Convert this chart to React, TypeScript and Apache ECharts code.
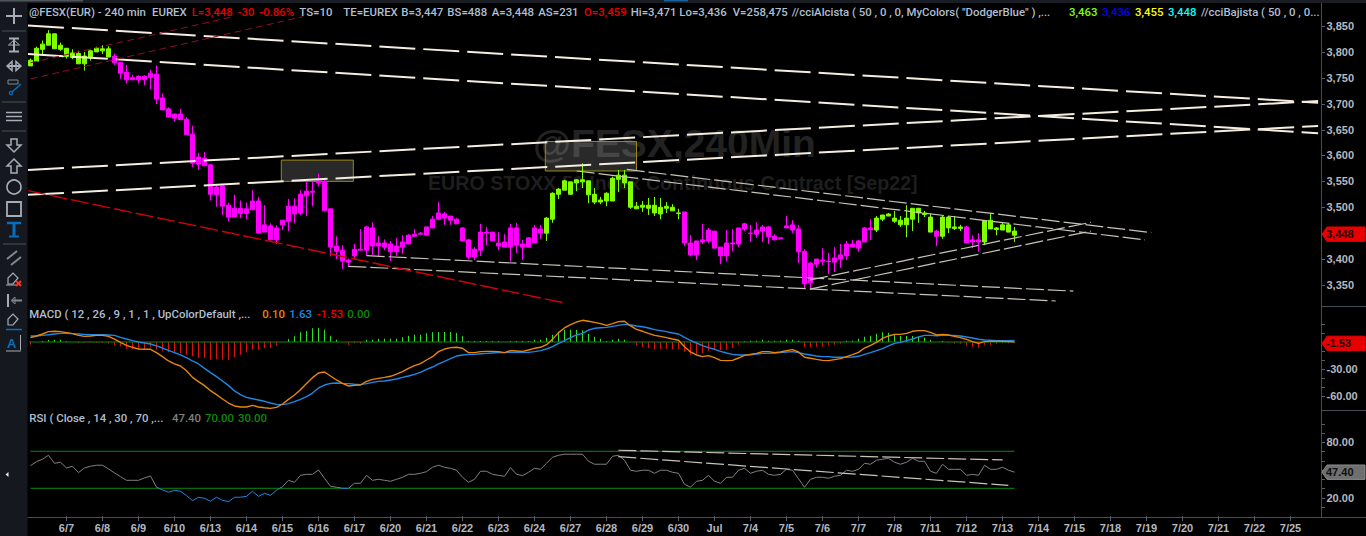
import React, { useEffect, useRef } from "react";
import * as echarts from "echarts";

const dayLabels = ["6/7","6/8","6/9","6/10","6/13","6/14","6/15","6/16","6/17","6/20","6/21","6/22","6/23","6/24","6/27","6/28","6/29","6/30","Jul","7/4","7/5","7/6","7/7","7/8","7/11","7/12","7/13","7/14","7/15","7/18","7/19","7/20","7/21","7/22","7/25"];

const bodyHigh = [3784,3807,3815,3835,3835,3813,3807,3798,3797,3792,
3802,3807,3806,3806,3792,3780,3761,3750,3753,3753,
3759,3757,3711,3690,3680,3680,3670,3641,3597,3595,
3582,3539,3541,3504,3498,3498,3497,3512,3512,3466,
3464,3460,3475,3502,3502,3525,3531,3531,3551,3549,
3497,3425,3417,3398,3419,3419,3462,3460,3431,3431,
3429,3425,3433,3446,3448,3450,3462,3477,3489,3487,
3483,3477,3460,3437,3419,3452,3452,3452,3431,3433,
3460,3460,3429,3441,3460,3458,3479,3527,3535,3551,
3549,3553,3553,3551,3525,3514,3527,3556,3562,3562,
3549,3502,3504,3504,3504,3500,3502,3500,3489,3491,
3431,3435,3437,3456,3454,3423,3431,3431,3460,3468,
3450,3456,3462,3462,3444,3441,3464,3466,3458,3415,
3392,3400,3398,3396,3402,3408,3429,3429,3435,3460,
3460,3479,3485,3487,3479,3475,3479,3498,3498,3489,
3481,3454,3481,3481,3462,3462,3462,3437,3437,3474,
3475,3460,3466,3466,3454];
const bodyLow = [3773,3782,3805,3813,3806,3805,3791,3789,3777,3777,
3789,3800,3802,3790,3779,3759,3746,3746,3746,3746,
3751,3709,3688,3674,3672,3669,3640,3585,3583,3580,
3525,3524,3502,3481,3481,3488,3488,3495,3450,3452,
3437,3437,3466,3473,3487,3489,3522,3529,3547,3493,
3423,3415,3396,3394,3406,3417,3417,3425,3425,3423,
3414,3414,3423,3429,3444,3448,3446,3460,3477,3479,
3475,3468,3435,3404,3404,3417,3450,3435,3425,3423,
3423,3427,3423,3423,3431,3450,3450,3477,3525,3533,
3525,3547,3549,3524,3510,3510,3512,3512,3554,3547,
3500,3497,3500,3498,3489,3487,3498,3493,3488,3431,
3408,3408,3433,3435,3421,3406,3406,3429,3429,3458,
3449,3448,3454,3443,3437,3439,3460,3456,3414,3352,
3354,3390,3396,3395,3394,3400,3406,3423,3421,3433,
3457,3456,3477,3483,3473,3466,3466,3477,3489,3486,
3452,3444,3444,3460,3459,3459,3431,3433,3433,3433,
3458,3457,3456,3452,3446];
const wickHigh = [3787,3810,3822,3842,3835,3818,3807,3805,3802,3800,
3804,3810,3813,3811,3797,3780,3775,3756,3755,3755,
3766,3774,3720,3693,3680,3690,3674,3657,3605,3607,
3582,3543,3541,3509,3524,3513,3509,3533,3520,3504,
3469,3465,3475,3516,3517,3533,3551,3551,3565,3553,
3497,3444,3427,3401,3429,3458,3464,3471,3444,3438,
3435,3441,3446,3448,3458,3452,3462,3483,3510,3491,
3483,3479,3462,3439,3423,3468,3462,3452,3452,3448,
3468,3470,3437,3442,3466,3466,3481,3529,3537,3553,
3549,3554,3585,3551,3537,3520,3529,3559,3572,3572,
3549,3510,3512,3518,3520,3518,3510,3506,3497,3491,
3446,3435,3468,3460,3454,3423,3456,3458,3460,3470,
3466,3471,3466,3464,3448,3441,3483,3475,3466,3419,
3394,3400,3421,3412,3423,3429,3435,3437,3437,3462,
3477,3483,3485,3489,3493,3483,3504,3498,3498,3493,
3487,3456,3483,3483,3483,3466,3464,3446,3450,3474,
3489,3462,3471,3468,3462];
const wickLow = [3773,3782,3794,3813,3806,3802,3787,3786,3777,3764,
3783,3800,3796,3790,3775,3748,3739,3746,3739,3736,
3728,3699,3688,3674,3665,3669,3640,3578,3572,3580,
3513,3501,3485,3473,3481,3479,3477,3495,3450,3452,
3437,3429,3456,3454,3469,3485,3483,3502,3540,3493,
3405,3400,3381,3384,3401,3417,3406,3408,3405,3417,
3396,3406,3410,3429,3444,3448,3446,3460,3477,3466,
3466,3468,3435,3400,3398,3406,3427,3435,3417,3423,
3395,3412,3398,3423,3431,3439,3435,3470,3516,3533,
3525,3531,3537,3508,3506,3506,3502,3512,3529,3537,
3497,3497,3491,3485,3483,3477,3489,3493,3477,3425,
3405,3398,3429,3431,3421,3390,3396,3415,3423,3454,
3433,3441,3433,3429,3437,3439,3460,3450,3392,3344,
3342,3383,3388,3371,3375,3383,3398,3423,3414,3433,
3437,3452,3473,3483,3470,3462,3442,3454,3470,3481,
3452,3425,3439,3450,3456,3454,3431,3421,3414,3427,
3458,3446,3456,3452,3433];
const bullRuns = [[0,13],[86,108],[141,150],[152,155],[159,164]];

const macdFast = [4.8,6.7,8.9,11.5,11.9,11.5,10.4,9.3,7.4,6.3,
6.7,7.4,7.4,6.3,3.3,-0.4,-3.7,-5.9,-7.8,-8.1,
-8.1,-11.8,-16.3,-21.1,-24.4,-26.7,-31.9,-39.3,-44.1,-48.5,
-54.1,-58.5,-63.3,-67.8,-71.1,-72.2,-72.2,-70.4,-72.2,-73,
-73.7,-72.6,-68.9,-63.7,-58.9,-53,-46,-39.6,-34.4,-33.3,
-37.8,-42.2,-46,-48.9,-48.2,-47.8,-43.7,-41.5,-40.4,-39.3,
-38.1,-35.6,-33,-29.3,-26.3,-24.1,-20,-16.3,-10.7,-7.8,
-6.3,-5.9,-7,-11.8,-11.8,-10.7,-10.4,-10.4,-10.7,-11.8,
-9.6,-10,-10.4,-8.9,-7,-5.9,-3,2.9,10.4,15.6,
19.3,22.2,24.1,23,21.8,20.4,18.5,20.4,22.6,23,
17.8,14.1,11.9,9.6,7.4,6.3,4.8,3.3,1.9,-5.2,
-11.1,-14.4,-16.3,-15.2,-17.4,-20.4,-20.7,-20.4,-17.8,-14.8,
-13.7,-12.6,-10.7,-10.7,-11.8,-11.1,-9.6,-8.5,-11.1,-17,
-18.1,-19.3,-20.4,-20.7,-19.6,-18.5,-16.3,-14.1,-11.5,-6.7,
-3.7,-0.4,4.1,6.7,8.5,8.5,9.6,11.9,12.6,12.6,
10.7,7.8,8.5,7.8,6.3,4.8,2.9,0.4,-1.5,0.4,
0.7,0.7,0.7,0.4,0.1];
const macdSignal = [6.7,6.7,7.4,8.1,8.9,9.6,9.6,9.3,8.9,8.5,
8.1,8.1,8.1,7.8,7.4,5.2,3.3,1.5,0,-1.1,
-2.2,-4.4,-6.7,-9.3,-11.8,-14.4,-17.4,-21.1,-24.4,-29.3,
-34.1,-38.5,-43.3,-48.5,-54.4,-58.5,-61.5,-63,-64.4,-65.9,
-67.8,-69.3,-69.6,-68.5,-66.3,-63.7,-60.7,-56.7,-51.1,-47.8,
-46,-45.6,-46,-46.3,-47,-47.4,-46.3,-44.8,-43.7,-43.3,
-42.2,-41.1,-39.3,-37.8,-35.9,-33.7,-30.4,-27.8,-24.4,-21.5,
-18.5,-15.6,-14.4,-13.7,-13.7,-13,-12.6,-12.2,-11.8,-11.8,
-11.5,-11.5,-11.5,-11.5,-10.7,-9.6,-7.8,-5.2,-1.5,1.5,
4.8,7.8,9.6,13.3,15.2,15.9,16.3,17.4,18.5,19.6,
18.9,17.8,17,15.6,13.7,12.6,11.5,10,8.9,5.2,
1.9,-1.1,-4.1,-6.3,-8.1,-10.4,-12.2,-13.7,-14.4,-14.4,
-14.1,-13.3,-12.6,-12.6,-12.2,-11.8,-11.1,-10.7,-11.8,-13.3,
-14.4,-15.6,-16.3,-16.3,-17,-17,-17,-16.7,-15.9,-13.7,
-11.8,-9.6,-7.4,-4.4,-1.5,-0.4,1.5,3.3,5.6,7.4,
7.4,7,7.4,7.4,7.4,6.7,5.6,4.4,3,2.2,
1.9,1.5,1.5,1.5,1.63];
const macdHist = [-3,0,1.1,2.2,2.6,2.6,0.7,0,-1.5,-1.1,
-1.1,-1.1,-1.1,-1.9,-3.3,-4.8,-7.4,-7.8,-8.5,-7.4,
-5.9,-8.5,-10.4,-11.5,-12.2,-12.2,-14.1,-15.9,-17.8,-17.8,
-19.6,-18.9,-19.6,-19.6,-17,-14.1,-11.5,-8.5,-8.5,-6.7,
-6.7,-4.1,0,3.3,6.3,10.7,12.2,15.2,15.9,13.7,
7,2.6,0,-3,-1.5,-1.9,2.6,2.6,3.7,3.7,
3.7,3.7,5.2,7,8.1,8.1,9.6,10.7,11.1,11.1,
11.1,10,6.3,1.1,1.1,1.1,1.1,1.1,1.1,0,
1.1,1.1,1.1,1.1,2.6,2.6,4.8,8.1,11.1,13.7,
13.7,13.7,13,9.3,5.9,3.7,1.1,2.6,3.7,2.6,
0,-4.1,-5.6,-6.7,-7.8,-7.8,-7.4,-7.8,-7.8,-10.7,
-14.1,-13,-12.2,-9.6,-9.3,-9.3,-8.5,-6.7,-3,0.7,
1.5,1.5,2.6,1.5,1.5,1.5,2.6,2.6,1.5,-5.6,
-5.9,-5.2,-5.2,-3.7,-3,-1.9,1.5,1.5,3.7,5.9,
7,9.3,10.7,10.4,8.1,6.7,6.7,6.7,5.9,4.8,
2.6,0,1.1,-0.4,-1.9,-1.9,-4.1,-5.2,-6.3,-3,
-3.3,-1.9,-1.5,-1.5,-1.1];
const rsiValues = [54.5,58.8,61.4,65.7,57,58.1,52,53.8,46.9,52,
53.8,54.9,54.9,50.9,46.6,42.6,38.6,38.6,38.6,41.2,
43.3,31.1,28.2,25.7,27.8,26.8,22.1,16.7,20.3,19.2,
16,20.3,17,15.6,20.3,20.3,21.3,26.8,21.3,24.6,
22.4,27.8,31.8,38.6,36.5,44,45.1,45.1,49.8,40.8,
32.2,31.1,30,30,35.4,35.4,44,38.6,39.7,38.6,
37.6,39.7,41.9,45.1,45.1,46.2,48,52.7,54.9,52.7,
51.6,49.5,41.9,36.5,39.7,48.4,48.4,45.1,44,43,
52.4,45.1,43.7,47.3,51.6,50.5,57,63.5,65.7,66.8,
66.8,66.8,66.8,59.2,56,56,56,64.6,65.7,60.3,
49.5,48.4,49.5,49.5,46.2,49.5,49.5,47.3,46.2,34.3,
31.1,37.6,38.6,44,37.6,35.4,41.9,41.9,49.5,51.6,
46.2,48.4,49.5,45.1,44,45.1,50.5,49.5,40.4,31.1,
39.7,41.9,41.9,40.8,43,44,49.5,48.4,50.5,57,
56,60.3,61.4,62.4,58.1,56,58.1,62.4,59.2,59.2,
48.4,46.2,56,50.5,50.5,50.5,44,45.1,44,54.9,
50.5,50.5,52.7,49.5,47.4];

// trend lines: candle index / value at both ends
const heavyLines = [[-0.42,3851,214.6,3702],[-0.42,3796,214.6,3643],[-0.42,3572,214.6,3705],[-0.42,3524,214.6,3657]];
const thinLines = [[99.37,3573,186.8,3451],[91.03,3570,185.75,3437],[56.03,3406.5,173.8,3338],[52.97,3386,170.87,3319],[129.92,3359.5,176.75,3471],[129.92,3342,176.75,3454]];
const redLine = [-0.42,3532,89.08,3315];
const dottedLines = [[0.03,3779,33.75,3868],[0.03,3748,45.4,3868]];
const rsiLines = [[97.97,71.1,162.03,60.6],[97.97,64.2,162.97,33.2]];
const macdZero = [[-0.2,0,164,0]];
const rsiLevels = [[0,70,164,70],[0,30,164,30]];
const zoneBoxes = [[41.8,3591,53.8,3550],[85.8,3627,101,3570]];

const priceTicks = [3850,3800,3750,3700,3650,3600,3550,3500,3450,3400,3350];
const priceLabels = [3850,3800,3750,3700,3650,3600,3550,3500,3400,3350];
const macdTicks = [20,10,0,-10,-20,-30,-40,-50,-60];
const macdLabels = [-30,-60];
const rsiTicks = [100,90,80,70,60,50,40,30,20,10];
const rsiLabels = [80,20];

const lastPrice = 3448;
const lastMacd = -1.53;
const lastRsi = 47.4;

const TEXT = "#aebfd2";
const RED = "#e60000";
const GREEN_TXT = "#0a8a0a";
const headerPieces: [string, number, string][] = [
  ["@FESX(EUR) - 240 min", 29, TEXT],["EUREX", 152, TEXT],["L=3,448", 191.7, RED],["-30", 237.7, RED],["-0.86%", 259.3, RED],
  ["TS=10", 299.3, TEXT],["TE=EUREX", 343.3, TEXT],["B=3,447", 401.3, TEXT],["BS=488", 447.3, TEXT],["A=3,448", 491.7, TEXT],
  ["AS=231", 538.3, TEXT],["O=3,459", 584, RED],["Hi=3,471", 630.7, TEXT],["Lo=3,436", 679.3, TEXT],["V=258,475", 732.7, TEXT],
  ['//cciAlcista ( 50 , 0 , 0, MyColors( "DodgerBlue" ) ,...', 791.7, TEXT],
  ["3,463", 1069, "#7fff00"],["3,436", 1102, "#0000ff"],["3,455", 1135, "#ffff00"],["3,448", 1168, "#00ffff"],
  ["//cciBajista ( 50 , 0 , 0...", 1201, TEXT],
];
const macdPieces: [string, number, string][] = [
  ["MACD ( 12 , 26 , 9 , 1 , 1 , UpColorDefault ,...", 29.3, TEXT],["0.10", 262.3, "#e8860c"],["1.63", 289.3, "#1e88e5"],["-1.53", 316.7, RED],["0.00", 347.3, GREEN_TXT],
];
const rsiPieces: [string, number, string][] = [
  ["RSI ( Close , 14 , 30 , 70 ,...", 29.3, TEXT],["47.40", 172, "#808080"],["70.00", 205, GREEN_TXT],["30.00", 238, GREEN_TXT],
];

const FONT = '"Liberation Sans", Arial, sans-serif';
const HEAD_FONT = `500 11.4px Roboto, "Liberation Sans", sans-serif`;
const ICON = "#7f8894";
const ICON_LIGHT = "#a7adb6";
const ICON_BLUE = "#0a6ebd";

function label(pieces: [string, number, string][], y: number) {
  return pieces.map(([text, x, fill]) => ({
    type: "text", silent: true,
    style: { text, x, y, fill, font: HEAD_FONT, verticalAlign: "middle" },
  }));
}
const ln = (x1: number, y1: number, x2: number, y2: number, stroke = ICON, lineWidth = 2) => ({
  type: "line", silent: true, shape: { x1, y1, x2, y2 }, style: { stroke, lineWidth },
});
const poly = (points: number[][], stroke = ICON_LIGHT, lineWidth = 1.5) => ({
  type: "polygon", silent: true, shape: { points }, style: { fill: "transparent", stroke, lineWidth },
});

const toolbar: any[] = [
  { type: "rect", silent: true, shape: { x: 0, y: 0, width: 27.5, height: 536 }, style: { fill: "#15181e" } },
  { type: "rect", silent: true, shape: { x: 0, y: 0, width: 1366, height: 3 }, style: { fill: "#1a1d23" } },
  { type: "rect", silent: true, shape: { x: 0, y: 0, width: 83, height: 1.5 }, style: { fill: "#50545b" } },
  { type: "rect", silent: true, shape: { x: 664, y: 0, width: 24, height: 1.5 }, style: { fill: "#1a5f9e" } },
  ln(6, 16, 22, 16, ICON_LIGHT), ln(14, 8, 14, 24, ICON_LIGHT),
  ln(2, 31, 26, 31, "#4a4f57", 1),
  ln(9, 38.5, 19, 38.5, ICON_LIGHT), ln(9, 51.5, 19, 51.5, ICON_LIGHT), ln(14, 39, 14, 51, ICON_LIGHT),
  poly([[14, 40], [8.5, 45], [19.5, 45]], ICON_LIGHT, 1),
  ln(8, 66, 20, 66, ICON_LIGHT), poly([[7, 66], [12, 61.5], [12, 70.5]]), poly([[21, 66], [16, 61.5], [16, 70.5]]),
  { type: "rect", silent: true, shape: { x: 8, y: 80, width: 10, height: 4 }, style: { fill: "transparent", stroke: ICON, lineWidth: 1 } },
  ln(12, 92, 21, 84, ICON_BLUE, 1.5),
  { type: "circle", silent: true, shape: { cx: 11, cy: 93, r: 1.6 }, style: { fill: "transparent", stroke: ICON_BLUE, lineWidth: 1.2 } },
  ln(2, 102, 26, 102, "#4a4f57", 1),
  ln(6, 112.5, 22, 112.5, ICON_LIGHT, 1.5), ln(6, 116.5, 22, 116.5, ICON_LIGHT, 1.5), ln(6, 120.5, 22, 120.5, ICON_LIGHT, 1.5),
  ln(2, 131, 26, 131, "#4a4f57", 1),
  poly([[11, 139], [17, 139], [17, 145], [21, 145], [14, 152], [7, 145], [11, 145]]),
  poly([[14, 159], [21, 166], [17, 166], [17, 173], [11, 173], [11, 166], [7, 166]]),
  { type: "circle", silent: true, shape: { cx: 14, cy: 187, r: 7 }, style: { fill: "transparent", stroke: ICON_LIGHT, lineWidth: 1.6 } },
  { type: "rect", silent: true, shape: { x: 7, y: 202, width: 14, height: 14 }, style: { fill: "transparent", stroke: ICON_LIGHT, lineWidth: 1.8 } },
  ln(7, 223, 21, 223, ICON_BLUE, 2.5), ln(14, 223, 14, 236, ICON_BLUE, 3), ln(9, 236.5, 19, 236.5, ICON_BLUE, 2),
  ln(3, 244, 26, 244, "#4a4f57", 1),
  ln(7, 259, 17, 251, ICON), ln(11, 265, 21, 257, ICON),
  poly([[8, 284], [8, 278], [13, 273], [18, 278], [13, 284]], ICON_LIGHT, 1.2),
  ln(6, 285, 17, 285, ICON_LIGHT, 1),
  ln(16, 281, 21, 286, "#e8392c", 2), ln(21, 281, 16, 286, "#e8392c", 2),
  ln(8, 294, 8, 307, ICON_LIGHT, 2), ln(12, 300.5, 22, 300.5, ICON), poly([[11, 300.5], [15, 297], [15, 304]], ICON, 1),
  poly([[8, 325], [8, 319], [13, 314], [18, 319], [13, 325]], ICON_LIGHT, 1.2),
  ln(6, 329.5, 22, 329.5, ICON_BLUE, 1.5),
  { type: "text", silent: true, style: { text: "A", x: 7, y: 343.5, fill: ICON_BLUE, font: `bold 13px ${FONT}`, verticalAlign: "middle" } },
  ln(20.5, 335, 20.5, 350, ICON_LIGHT, 1), ln(6, 351, 21, 351, ICON_LIGHT, 1),
  { type: "polygon", silent: true, shape: { points: [[8.5, 472], [5.5, 474.5], [8.5, 477]] }, style: { fill: "#e8e8e8" } },
  ln(1321.5, 3, 1321.5, 517, "#474b52", 1),
  ln(1321.5, 306.5, 1366, 306.5, "#474b52", 1),
  ln(1321.5, 410.5, 1366, 410.5, "#474b52", 1),
  ln(27.5, 517.5, 1366, 517.5, "#474b52", 1),
];

const watermark: any[] = [
  { type: "text", silent: true, style: { text: "@FESX,240Min", x: 533, y: 143, fill: "#222222", font: `bold 39px ${FONT}`, verticalAlign: "middle" } },
  { type: "text", silent: true, style: { text: "EURO STOXX 50 Index Continuous Contract [Sep22]", x: 428, y: 183, fill: "#1e1e1e", font: `bold 19.65px ${FONT}`, verticalAlign: "middle" } },
];

const CANDLE_GREEN = "#7fff00";
const CANDLE_PINK = "#ff00ff";

const isBull = (i: number) => bullRuns.some(([a, b]) => i >= a && i <= b);
const candleData = bodyHigh.map((h, i) => {
  const c = isBull(i) ? CANDLE_GREEN : CANDLE_PINK;
  return { value: [bodyLow[i], h, wickLow[i], wickHigh[i]], itemStyle: { color: c, color0: c, borderColor: c, borderColor0: c, borderWidth: 1 } };
});

const categories: string[] = Array.from({ length: 216 }, (_, i) => (i >= 6 && i % 6 === 0 ? dayLabels[i / 6 - 1] || "" : ""));
const isDayTick = (i: number) => i >= 6 && i % 6 === 0 && i / 6 <= dayLabels.length;

const trendSeries = (rows: number[][], xAxisIndex: number, yAxisIndex: number, color: string, width: number, dash: number[] | string, z = 4) =>
  rows.map((r) => ({
    type: "line", xAxisIndex, yAxisIndex, data: [[r[0], r[1]], [r[2], r[3]]], symbol: "none", silent: true, clip: false, z,
    lineStyle: { color, width, type: dash },
  }));

// value-axis tick marks on the right edge of a pane, placed through the pane's own scale
const tickSeries = (ticks: number[], xAxisIndex: number, yAxisIndex: number) => ({
  type: "custom", xAxisIndex, yAxisIndex, data: ticks.map((t) => [0, t]), silent: true, z: 5,
  encode: { x: 0, y: 1 },
  renderItem: (_p: any, api: any) => {
    const y = Math.round(api.coord([0, api.value(1)])[1]) + 0.5;
    return { type: "line", shape: { x1: 1322, y1: y, x2: 1325, y2: y }, style: { stroke: "#5a5e66", lineWidth: 1 } };
  },
});

const tagSeries = (value: number, xAxisIndex: number, yAxisIndex: number, text: string, fill: string, textFill: string, stroke?: string) => ({
  type: "custom", xAxisIndex, yAxisIndex, data: [[0, value]], silent: true, z: 6,
  encode: { x: 0, y: 1 },
  renderItem: (params: any, api: any) => {
    const y = api.coord([0, api.value(1)])[1];
    const left = 1322;
    return {
      type: "group",
      children: [
        { type: "polygon", shape: { points: [[left, y], [left + 5, y - 7.2], [left + 43, y - 7.2], [left + 43, y + 7.2], [left + 5, y + 7.2]] }, style: { fill, stroke: stroke || fill, lineWidth: 1 } },
        { type: "text", style: { text, x: left + 4, y, fill: textFill, font: `bold 11px ${FONT}`, verticalAlign: "middle", align: "left" } },
      ],
    };
  },
});

const App = () => {
  const ref = useRef<HTMLDivElement>(null);
  useEffect(() => {
    document.body.style.margin = "0";
    document.body.style.background = "#000";
    const chart = echarts.init(ref.current!, null, { renderer: "svg" });
    const grids = [
      { left: 27.5, width: 1296, top: 10, height: 296 },
      { left: 27.5, width: 1296, top: 306, height: 104 },
      { left: 27.5, width: 1296, top: 410, height: 107 },
    ];
    const axisText = { color: "#b4b8c0", fontFamily: FONT, fontSize: 11, fontWeight: "bold" as const };
    const yAxisBase = (gridIndex: number, min: number, max: number, labels: number[], fmt: (v: number) => string) => ({
      type: "value", gridIndex, min, max, position: "right", offset: -2,
      splitLine: { show: false },
      axisLine: { show: false },
      axisTick: { show: false },
      axisLabel: { ...axisText, margin: 5, customValues: labels, formatter: fmt },
    });
    const option: any = {
      animation: false,
      backgroundColor: "#000000",
      grid: grids,
      graphic: { elements: [...watermark, ...toolbar, ...label(headerPieces, 11.5), ...label(macdPieces, 314), ...label(rsiPieces, 418)] },
      xAxis: [
        { type: "category", gridIndex: 0, data: categories, show: false },
        { type: "category", gridIndex: 1, data: categories, show: false },
        {
          type: "category", gridIndex: 2, data: categories, position: "bottom",
          axisLine: { show: false },
          axisTick: { show: true, alignWithLabel: true, length: 5, interval: (i: number) => isDayTick(i), lineStyle: { color: "#5a5e66" } },
          axisLabel: { ...axisText, margin: 5, interval: (i: number) => isDayTick(i) },
          splitLine: { show: false },
        },
        { type: "value", gridIndex: 0, min: -0.5, max: 215.5, show: false, position: "top", splitLine: { show: false } },
        { type: "value", gridIndex: 1, min: -0.5, max: 215.5, show: false, position: "top", splitLine: { show: false } },
        { type: "value", gridIndex: 2, min: -0.5, max: 215.5, show: false, position: "top", splitLine: { show: false } },
      ],
      yAxis: [
        yAxisBase(0, 3309.3, 3880.9, priceLabels, (v) => Number(v).toLocaleString("en-US")),
        yAxisBase(1, -75.56, 40, macdLabels, (v) => Number(v).toFixed(2)),
        yAxisBase(2, -1.03, 114.6, rsiLabels, (v) => Number(v).toFixed(2)),
      ],
      visualMap: {
        show: false, type: "piecewise", seriesIndex: 5, dimension: 1,
        pieces: [{ gte: 0, lte: 30, color: "#1e88e5" }, { gt: 30, lte: 100, color: "#808080" }],
      },
      series: [
        {
          type: "custom", xAxisIndex: 3, yAxisIndex: 0, z: 1, silent: true,
          data: zoneBoxes,
          encode: { x: [0, 2], y: [1, 3] },
          renderItem: (_p: any, api: any) => {
            const a = api.coord([api.value(0), api.value(1)]);
            const b = api.coord([api.value(2), api.value(3)]);
            return {
              type: "rect",
              shape: { x: a[0], y: a[1], width: b[0] - a[0], height: b[1] - a[1] },
              style: { fill: "rgba(255,255,255,0.16)", stroke: "#9a8a10", lineWidth: 1 },
            };
          },
        },
        {
          type: "candlestick", xAxisIndex: 0, yAxisIndex: 0, z: 2, barWidth: 4, silent: true,
          data: candleData,
        },
        {
          type: "bar", xAxisIndex: 1, yAxisIndex: 1, barWidth: 1, z: 2, silent: true,
          data: macdHist,
          itemStyle: { color: (p: any) => (p.value >= 0 ? "#2ee02a" : "#dd1111"), borderWidth: 0 },
        },
        {
          type: "line", xAxisIndex: 1, yAxisIndex: 1, data: macdSignal, symbol: "none", silent: true, z: 3,
          lineStyle: { color: "#1e88e5", width: 1.4 },
        },
        {
          type: "line", xAxisIndex: 1, yAxisIndex: 1, data: macdFast, symbol: "none", silent: true, z: 3,
          lineStyle: { color: "#e8860c", width: 1.4 },
        },
        {
          type: "line", xAxisIndex: 2, yAxisIndex: 2, data: rsiValues, symbol: "none", silent: true, z: 3,
          lineStyle: { width: 1 },
        },
        ...trendSeries(macdZero, 4, 1, "#0a8a0a", 1, "solid", 2),
        ...trendSeries(rsiLevels, 5, 2, "#0a8a0a", 1, "solid", 2),
        ...trendSeries(heavyLines, 3, 0, "#f5ede0", 2, [36, 8]),
        ...trendSeries(thinLines, 3, 0, "#c8c4b8", 1.2, [18, 4]),
        ...trendSeries([redLine], 3, 0, "#d0000f", 1.4, [18, 4]),
        ...trendSeries(dottedLines, 3, 0, "#8f0f2c", 1, [7, 4]),
        ...trendSeries(rsiLines, 5, 2, "#c8c4b8", 1.2, [18, 4]),
        tickSeries(priceTicks, 3, 0),
        tickSeries(macdTicks, 4, 1),
        tickSeries(rsiTicks, 5, 2),
        tagSeries(lastPrice, 3, 0, "3,448", RED, "#200000"),
        tagSeries(lastMacd, 4, 1, "-1.53", RED, "#200000"),
        tagSeries(lastRsi, 5, 2, "47.40", "#6f6f6f", "#101010", "#8a8a8a"),
      ],
    };
    chart.setOption(option);
    return () => chart.dispose();
  }, []);
  return <div ref={ref} style={{ width: 1366, height: 536, background: "#000" }} />;
};

export default App;
